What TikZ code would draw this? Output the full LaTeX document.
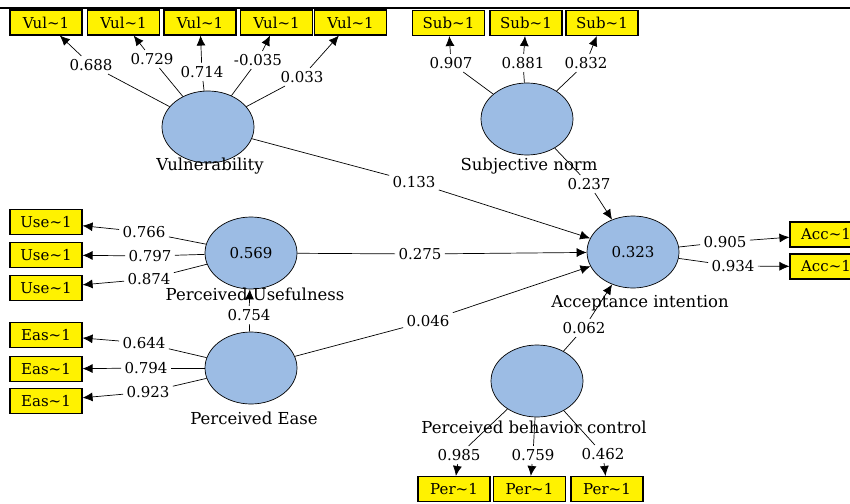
\documentclass[tikz,border=0pt]{standalone}
\usepackage{fontspec}
\setmainfont{DejaVu Serif}
\usetikzlibrary{shapes.geometric,arrows.meta}
\definecolor{latent}{RGB}{156,188,228}

\begin{document}
\begin{tikzpicture}[x=1pt,y=-1pt,line width=0.7pt,>={Latex[length=10pt,width=9pt]}]
	\tikzstyle{construct}=[ellipse,draw=black,fill=latent,minimum width=92pt,minimum height=72pt,inner sep=0pt,font=\fontsize{15}{17}\selectfont]
	\tikzstyle{indicator}=[rectangle,draw=black,line width=1.1pt,fill=yellow,minimum width=72pt,minimum height=25pt,inner sep=0pt,font=\fontsize{15}{17}\selectfont]
	\tikzstyle{loading}=[inner sep=3pt,font=\fontsize{15}{17}\selectfont]
	\tikzstyle{cname}=[inner sep=0pt,font=\fontsize{16.5}{18}\selectfont]
	\useasboundingbox (0,0) rectangle (850,503);
	\fill[white] (0,0) rectangle (850,503);
	\draw[line width=1.4pt] (0,8) -- (850,8);

	\node[construct](vul) at (208,127) {};
	\node[construct](sub) at (527,119) {};
	\node[construct](pu) at (251,253) {0.569};
	\node[construct](pe) at (251,368) {};
	\node[construct](ai) at (633,252) {0.323};
	\node[construct](pbc) at (537,381) {};

	\node[cname](nvul) at (210,166) {Vulnerability};
	\node[cname](nsub) at (529,166) {Subjective norm};
	\node[cname](npu) at (255,294) {Perceived Usefulness};
	\node[cname](npe) at (254,418) {Perceived Ease};
	\node[cname](nai) at (640,303) {Acceptance intention};
	\node[cname](npbc) at (534,427) {Perceived behavior control};

	\node[indicator](v1) at (46,22.5) {Vul\textasciitilde1};
	\node[indicator](v2) at (123.5,22.5) {Vul\textasciitilde1};
	\node[indicator](v3) at (200,22.5) {Vul\textasciitilde1};
	\node[indicator](v4) at (276.5,22.5) {Vul\textasciitilde1};
	\node[indicator](v5) at (350.5,22.5) {Vul\textasciitilde1};
	\node[indicator](s1) at (448.5,23) {Sub\textasciitilde1};
	\node[indicator](s2) at (526,23) {Sub\textasciitilde1};
	\node[indicator](s3) at (602,23) {Sub\textasciitilde1};
	\node[indicator](u1) at (46,222) {Use\textasciitilde1};
	\node[indicator](u2) at (46,255) {Use\textasciitilde1};
	\node[indicator](u3) at (46,288) {Use\textasciitilde1};
	\node[indicator](e1) at (46,335) {Eas\textasciitilde1};
	\node[indicator](e2) at (46,369) {Eas\textasciitilde1};
	\node[indicator](e3) at (46,401) {Eas\textasciitilde1};
	\node[indicator](a1) at (826,234.5) {Acc\textasciitilde1};
	\node[indicator](a2) at (826,266.5) {Acc\textasciitilde1};
	\node[indicator](p1) at (454,489) {Per\textasciitilde1};
	\node[indicator](p2) at (529.5,489) {Per\textasciitilde1};
	\node[indicator](p3) at (607,489) {Per\textasciitilde1};

	\node[loading](cv1) at (91,65) {0.688};
	\node[loading](cv2) at (152,59) {0.729};
	\node[loading](cv3) at (202,72) {0.714};
	\node[loading](cv4) at (258,60) {-0.035};
	\node[loading](cv5) at (302,77) {0.033};
	\node[loading](cs1) at (451,63) {0.907};
	\node[loading](cs2) at (523,63) {0.881};
	\node[loading](cs3) at (586,63) {0.832};
	\node[loading](cu1) at (144,232) {0.766};
	\node[loading](cu2) at (150,256) {0.797};
	\node[loading](cu3) at (149,279) {0.874};
	\node[loading](ce1) at (144,343) {0.644};
	\node[loading](ce2) at (146,368) {0.794};
	\node[loading](ce3) at (148,392) {0.923};
	\node[loading](ca1) at (725,242) {0.905};
	\node[loading](ca2) at (733,266) {0.934};
	\node[loading](cp1) at (459,455) {0.985};
	\node[loading](cp2) at (533,455) {0.759};
	\node[loading](cp3) at (603,454) {0.462};

	\node[loading](b1) at (414,182) {0.133};
	\node[loading](b2) at (420,254) {0.275};
	\node[loading](b3) at (428,321) {0.046};
	\node[loading](b4) at (589,184) {0.237};
	\node[loading](b5) at (249,315) {0.754};
	\node[loading](b6) at (584,328) {0.062};

	\draw (vul) -- (cv1); \draw[->] (cv1) -- (v1);
	\draw (vul) -- (cv2); \draw[->] (cv2) -- (v2);
	\draw (vul) -- (cv3); \draw[->] (cv3) -- (v3);
	\draw (vul) -- (cv4); \draw[->] (cv4) -- (v4);
	\draw (vul) -- (cv5); \draw[->] (cv5) -- (v5);
	\draw (sub) -- (cs1); \draw[->] (cs1) -- (s1);
	\draw (sub) -- (cs2); \draw[->] (cs2) -- (s2);
	\draw (sub) -- (cs3); \draw[->] (cs3) -- (s3);
	\draw (pu) -- (cu1); \draw[->] (cu1) -- (u1);
	\draw (pu) -- (cu2); \draw[->] (cu2) -- (u2);
	\draw (pu) -- (cu3); \draw[->] (cu3) -- (u3);
	\draw (pe) -- (ce1); \draw[->] (ce1) -- (e1);
	\draw (pe) -- (ce2); \draw[->] (ce2) -- (e2);
	\draw (pe) -- (ce3); \draw[->] (ce3) -- (e3);
	\draw (ai) -- (ca1); \draw[->] (ca1) -- (a1);
	\draw (ai) -- (ca2); \draw[->] (ca2) -- (a2);
	\draw (pbc) -- (cp1); \draw[->] (cp1) -- (p1);
	\draw (pbc) -- (cp2); \draw[->] (cp2) -- (p2);
	\draw (pbc) -- (cp3); \draw[->] (cp3) -- (p3);

	\draw (vul) -- (b1); \draw[->] (b1) -- (ai);
	\draw (pu) -- (b2); \draw[->] (b2) -- (ai);
	\draw (pe) -- (b3); \draw[->] (b3) -- (ai);
	\draw (sub) -- (b4); \draw[->] (b4) -- (ai);
	\draw (pe) -- (b5); \draw[->] (b5) -- (pu);
	\draw (pbc) -- (b6); \draw[->] (b6) -- (ai);
\end{tikzpicture}
\end{document}
